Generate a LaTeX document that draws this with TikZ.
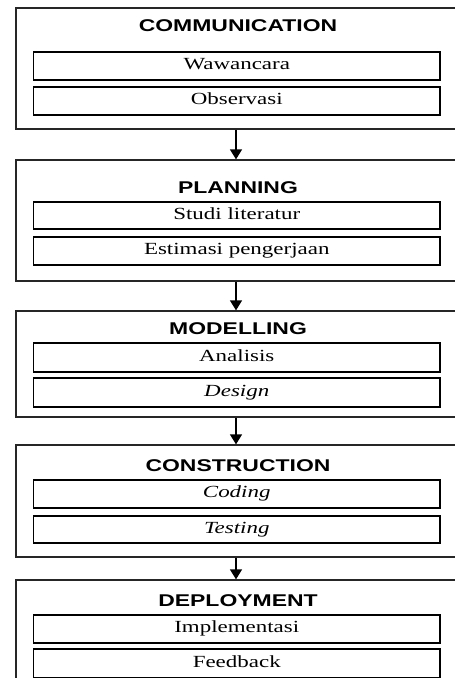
\documentclass[tikz,border=0pt]{standalone}
\usepackage{fontspec}
\setmainfont{Liberation Serif}
\newfontfamily\titlefamily{Liberation Sans}
\usetikzlibrary{arrows.meta}
\tikzset{
  outerbox/.style={draw=black!85, line width=1.3pt, inner sep=0pt, minimum width=454pt},
  innerbox/.style={draw=black, line width=1.2pt, inner sep=0pt, minimum width=406.5pt,
    text height=11.3pt, text depth=3.6pt, font=\fontsize{17}{17}\selectfont},
  titletext/.style={inner sep=0pt, text height=12.2pt, text depth=0pt,
    font=\titlefamily\bfseries\fontsize{17}{17}\selectfont},
  flowarrow/.style={line width=1.3pt, -{Triangle[width=12pt,length=10pt]}}
}
\newcommand{\wide}[1]{\scalebox{1.35}[1]{#1}}
\begin{document}
\begin{tikzpicture}[x=1pt,y=-1pt]
\useasboundingbox (0,0) rectangle (455,678);
\clip (0,0) rectangle (455,678);
\fill[white] (0,0) rectangle (455,678);
\coordinate (ax) at (236,0);

% Section 1
\node[outerbox, minimum height=121pt] (o1) at (243,68.5) {};
\node[titletext] (t1) at (238,25) {\wide{COMMUNICATION}};
\node[innerbox, minimum height=28pt] (a1) at (236.75,66) {\wide{Wawancara}};
\node[innerbox, minimum height=28pt] (b1) at (236.75,101) {\wide{Observasi}};

% Section 2
\node[outerbox, minimum height=121pt] (o2) at (243,220.5) {};
\node[titletext] (t2) at (238,187) {\wide{PLANNING}};
\node[innerbox, minimum height=27pt] (a2) at (236.75,215.5) {\wide{Studi literatur}};
\node[innerbox, minimum height=28pt] (b2) at (236.75,251) {\wide{Estimasi pengerjaan}};

% Section 3
\node[outerbox, minimum height=106pt] (o3) at (243,364) {};
\node[titletext] (t3) at (238,328) {\wide{MODELLING}};
\node[innerbox, minimum height=29pt] (a3) at (236.75,357.5) {\wide{Analisis}};
\node[innerbox, minimum height=29pt] (b3) at (236.75,392.5) {\wide{\itshape Design}};

% Section 4
\node[outerbox, minimum height=112pt] (o4) at (243,501) {};
\node[titletext] (t4) at (238,465) {\wide{CONSTRUCTION}};
\node[innerbox, minimum height=28pt] (a4) at (236.75,494) {\wide{\itshape Coding}};
\node[innerbox, minimum height=27pt] (b4) at (236.75,529.5) {\wide{\itshape Testing}};

% Section 5
\node[outerbox, minimum height=120pt] (o5) at (243,640) {};
\node[titletext] (t5) at (238,600) {\wide{DEPLOYMENT}};
\node[innerbox, minimum height=28pt] (a5) at (236.75,629) {\wide{Implementasi}};
\node[innerbox, minimum height=29pt] (b5) at (236.75,663.5) {\wide{Feedback}};

% Connectors
\draw[flowarrow] (o1.south -| ax) -- (o2.north -| ax);
\draw[flowarrow] (o2.south -| ax) -- (o3.north -| ax);
\draw[flowarrow] (o3.south -| ax) -- (o4.north -| ax);
\draw[flowarrow] (o4.south -| ax) -- (o5.north -| ax);
\end{tikzpicture}
\end{document}
